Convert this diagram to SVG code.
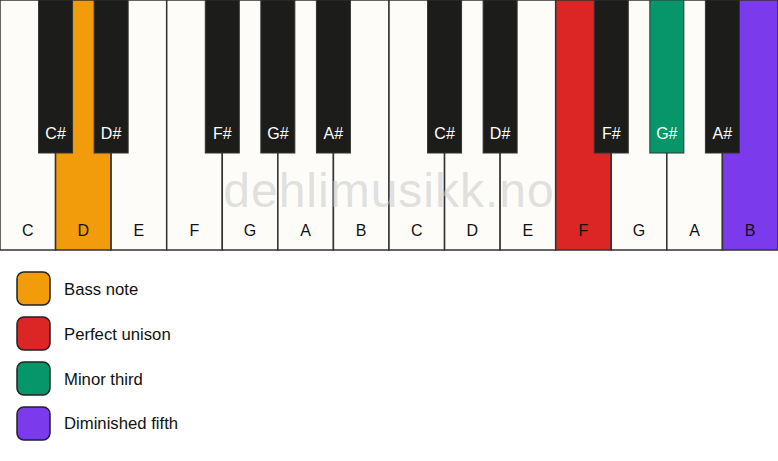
<svg xmlns="http://www.w3.org/2000/svg" width="778" height="461" viewBox="0 0 778 461">
<style>
.w{fill:#fdfcf9;stroke:#333;stroke-width:1.5}
.b{fill:#1c1c1a;stroke:#333;stroke-width:1}
.wl{font-family:"Liberation Sans",Arial,sans-serif;font-size:16px;fill:#111;text-anchor:middle}
.bl{font-family:"Liberation Sans",Arial,sans-serif;font-size:16px;fill:#fff;text-anchor:middle}
.lg{stroke:#222;stroke-width:1.5}
.lt{font-family:"Liberation Sans",Arial,sans-serif;font-size:16.7px;fill:#111}
</style>
<rect width="778" height="461" fill="#ffffff"/>
<g id="white-keys">
<g id="w0"><rect class="w" x="0" y="0" width="55.57" height="250"/><text class="wl" x="27.8" y="236">C</text></g>
<g id="w1"><rect class="w" x="55.57" y="0" width="55.57" height="250" style="fill:#f39c0b"/><text class="wl" x="83.4" y="236">D</text></g>
<g id="w2"><rect class="w" x="111.14" y="0" width="55.57" height="250"/><text class="wl" x="138.9" y="236">E</text></g>
<g id="w3"><rect class="w" x="166.71" y="0" width="55.57" height="250"/><text class="wl" x="194.5" y="236">F</text></g>
<g id="w4"><rect class="w" x="222.28" y="0" width="55.57" height="250"/><text class="wl" x="250.1" y="236">G</text></g>
<g id="w5"><rect class="w" x="277.85" y="0" width="55.57" height="250"/><text class="wl" x="305.6" y="236">A</text></g>
<g id="w6"><rect class="w" x="333.42" y="0" width="55.57" height="250"/><text class="wl" x="361.2" y="236">B</text></g>
<g id="w7"><rect class="w" x="388.99" y="0" width="55.57" height="250"/><text class="wl" x="416.8" y="236">C</text></g>
<g id="w8"><rect class="w" x="444.56" y="0" width="55.57" height="250"/><text class="wl" x="472.3" y="236">D</text></g>
<g id="w9"><rect class="w" x="500.13" y="0" width="55.57" height="250"/><text class="wl" x="527.9" y="236">E</text></g>
<g id="w10"><rect class="w" x="555.7" y="0" width="55.57" height="250" style="fill:#dc2626"/><text class="wl" x="583.5" y="236">F</text></g>
<g id="w11"><rect class="w" x="611.27" y="0" width="55.57" height="250"/><text class="wl" x="639.1" y="236">G</text></g>
<g id="w12"><rect class="w" x="666.84" y="0" width="55.57" height="250"/><text class="wl" x="694.6" y="236">A</text></g>
<g id="w13"><rect class="w" x="722.41" y="0" width="55.57" height="250" style="fill:#7c3aed"/><text class="wl" x="750.2" y="236">B</text></g>
</g>
<g id="black-keys">
<g id="b1"><rect class="b" x="38.57" y="0" width="34" height="153"/><text class="bl" x="55.6" y="139">C#</text></g>
<g id="b2"><rect class="b" x="94.14" y="0" width="34" height="153"/><text class="bl" x="111.1" y="139">D#</text></g>
<g id="b4"><rect class="b" x="205.28" y="0" width="34" height="153"/><text class="bl" x="222.3" y="139">F#</text></g>
<g id="b5"><rect class="b" x="260.85" y="0" width="34" height="153"/><text class="bl" x="277.9" y="139">G#</text></g>
<g id="b6"><rect class="b" x="316.42" y="0" width="34" height="153"/><text class="bl" x="333.4" y="139">A#</text></g>
<g id="b8"><rect class="b" x="427.56" y="0" width="34" height="153"/><text class="bl" x="444.6" y="139">C#</text></g>
<g id="b9"><rect class="b" x="483.13" y="0" width="34" height="153"/><text class="bl" x="500.1" y="139">D#</text></g>
<g id="b11"><rect class="b" x="594.27" y="0" width="34" height="153"/><text class="bl" x="611.3" y="139">F#</text></g>
<g id="b12"><rect class="b" x="649.84" y="0" width="34" height="153" style="fill:#069669"/><text class="bl" x="666.8" y="139">G#</text></g>
<g id="b13"><rect class="b" x="705.41" y="0" width="34" height="153"/><text class="bl" x="722.4" y="139">A#</text></g>
</g>
<text x="389" y="207" font-family="Liberation Sans,Arial,sans-serif" font-size="48" letter-spacing="1" text-anchor="middle" fill="#c8c8c8" fill-opacity="0.55">dehlimusikk.no</text>
<g id="legend">
<g id="lg1"><rect class="lg" x="17" y="272" width="33" height="33" rx="7" fill="#f39c0b"/><text class="lt" x="64" y="295">Bass note</text></g>
<g id="lg2"><rect class="lg" x="17" y="317" width="33" height="33" rx="7" fill="#dc2626"/><text class="lt" x="64" y="340">Perfect unison</text></g>
<g id="lg3"><rect class="lg" x="17" y="362" width="33" height="33" rx="7" fill="#069669"/><text class="lt" x="64" y="385">Minor third</text></g>
<g id="lg4"><rect class="lg" x="17" y="407" width="33" height="33" rx="7" fill="#7c3aed"/><text class="lt" x="64" y="429">Diminished fifth</text></g>
</g>
</svg>
